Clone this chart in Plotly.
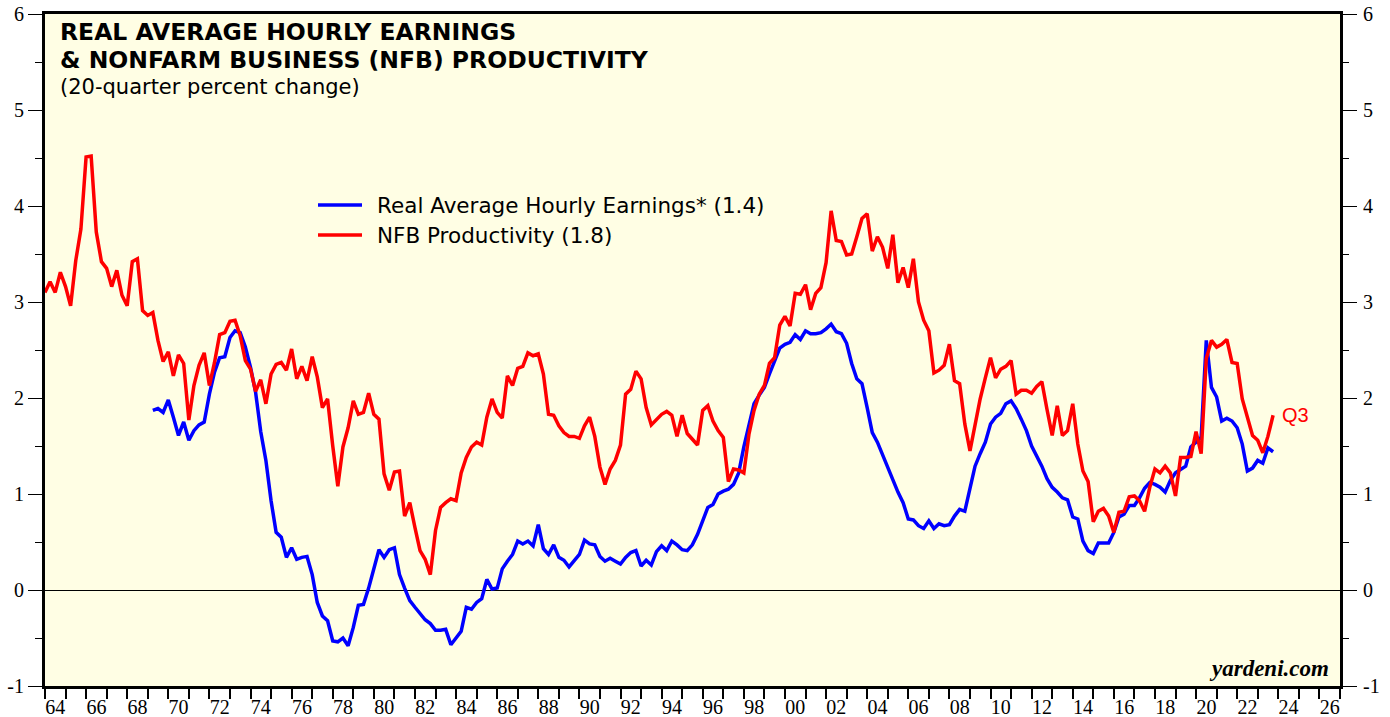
import pandas as pd
import plotly.graph_objects as go

# ---------------- data (20-quarter percent change, quarterly) ----------------
PROD_START = "1963Q4"
EARN_START = "1969Q1"

productivity = [
    3.10, 3.21, 3.10, 3.31, 3.16, 2.96, 3.43, 3.76, 4.51, 4.52,
    3.73, 3.42, 3.35, 3.16, 3.33, 3.07, 2.96, 3.42, 3.45, 2.91,
    2.86, 2.89, 2.60, 2.38, 2.48, 2.23, 2.45, 2.36, 1.77, 2.13,
    2.34, 2.47, 2.13, 2.37, 2.66, 2.68, 2.80, 2.81, 2.65, 2.39,
    2.30, 2.07, 2.19,
    1.94, 2.25, 2.35, 2.37, 2.29, 2.51, 2.20, 2.33, 2.18, 2.43,
    2.22, 1.90, 1.99, 1.50, 1.08, 1.49, 1.69, 1.97, 1.83, 1.85,
    2.05, 1.83, 1.78, 1.21, 1.04, 1.23, 1.24, 0.77, 0.91, 0.65,
    0.41, 0.32, 0.16, 0.62, 0.86, 0.91, 0.95, 0.93, 1.22, 1.38,
    1.49, 1.54,
    1.51, 1.80, 1.99, 1.85, 1.79, 2.23, 2.13, 2.31, 2.33, 2.47,
    2.44, 2.46, 2.25, 1.83, 1.82, 1.71, 1.64, 1.60, 1.60, 1.58,
    1.71, 1.80, 1.60, 1.28, 1.10, 1.26, 1.35, 1.51, 2.04, 2.09,
    2.28, 2.20, 1.90, 1.72, 1.77, 1.83, 1.86, 1.82, 1.60, 1.82,
    1.63, 1.57,
    1.51, 1.87, 1.92, 1.76, 1.66, 1.59, 1.13, 1.26, 1.25, 1.22,
    1.62, 1.87, 2.04, 2.13, 2.36, 2.42, 2.76, 2.85, 2.75, 3.09,
    3.08, 3.18, 2.92, 3.09, 3.15, 3.41, 3.95, 3.64, 3.63, 3.49,
    3.50, 3.68, 3.87, 3.92, 3.53, 3.68, 3.57, 3.35, 3.70, 3.20,
    3.36, 3.15,
    3.45, 3.00, 2.81, 2.70, 2.26, 2.29, 2.34, 2.56, 2.18, 2.15,
    1.73, 1.45, 1.73, 1.99, 2.21, 2.42, 2.21, 2.30, 2.33, 2.39,
    2.04, 2.08, 2.08, 2.05, 2.12, 2.17, 1.88, 1.61, 1.92, 1.61,
    1.66, 1.94, 1.52, 1.24, 1.13, 0.71, 0.82, 0.85, 0.77, 0.60,
    0.81, 0.82,
    0.97, 0.98, 0.93, 0.82, 1.07, 1.26, 1.22, 1.29, 1.22, 0.98,
    1.38, 1.38, 1.39, 1.65, 1.42, 2.41, 2.60, 2.53, 2.56, 2.61,
    2.37, 2.36, 1.99, 1.80, 1.61, 1.56, 1.43, 1.60, 1.82,
]

earnings = [
    1.87, 1.89, 1.85, 1.98, 1.80, 1.61, 1.75, 1.56, 1.66, 1.72,
    1.75, 2.04, 2.27, 2.42, 2.43, 2.63, 2.70, 2.68, 2.53, 2.32,
    2.06, 1.65,
    1.35, 0.93, 0.60, 0.55, 0.34, 0.44, 0.32, 0.34, 0.35, 0.16,
    -0.13, -0.27, -0.32, -0.53, -0.54, -0.50, -0.58, -0.39, -0.16, -0.15,
    0.02, 0.22, 0.42, 0.34, 0.42, 0.44, 0.16, 0.02, -0.11, -0.18,
    -0.24, -0.31, -0.35, -0.42, -0.42, -0.41, -0.57, -0.50, -0.43, -0.18,
    -0.20, -0.13,
    -0.09, 0.11, 0.01, 0.02, 0.22, 0.30, 0.37, 0.51, 0.48, 0.51,
    0.46, 0.68, 0.43, 0.37, 0.47, 0.34, 0.31, 0.24, 0.30, 0.37,
    0.52, 0.48, 0.47, 0.35, 0.30, 0.33, 0.30, 0.27, 0.34, 0.39,
    0.41, 0.25, 0.31, 0.26, 0.40, 0.46, 0.41, 0.51, 0.47, 0.42,
    0.41, 0.47,
    0.58, 0.73, 0.86, 0.89, 1.00, 1.03, 1.05, 1.10, 1.22, 1.49,
    1.73, 1.94, 2.03, 2.11, 2.25, 2.38, 2.52, 2.56, 2.58, 2.66,
    2.61, 2.70, 2.67, 2.67, 2.68, 2.72, 2.77, 2.69, 2.67, 2.57,
    2.36, 2.20, 2.15, 1.90, 1.64, 1.54, 1.41, 1.27, 1.14, 1.02,
    0.91, 0.74,
    0.73, 0.67, 0.64, 0.72, 0.64, 0.69, 0.67, 0.68, 0.77, 0.84,
    0.82, 1.07, 1.29, 1.42, 1.54, 1.73, 1.80, 1.84, 1.94, 1.97,
    1.89, 1.78, 1.66, 1.50, 1.40, 1.29, 1.16, 1.07, 1.02, 0.96,
    0.94, 0.76, 0.74, 0.51, 0.41, 0.38, 0.49, 0.49, 0.49, 0.60,
    0.76, 0.79,
    0.88, 0.88, 0.96, 1.06, 1.12, 1.10, 1.07, 1.02, 1.14, 1.22,
    1.26, 1.29, 1.49, 1.54, 1.59, 2.60, 2.11, 2.01, 1.76, 1.79,
    1.76, 1.69, 1.52, 1.24, 1.27, 1.35, 1.32, 1.48, 1.44,
]

EARN_NAME = "Real Average Hourly Earnings* (1.4)"
PROD_NAME = "NFB Productivity (1.8)"
TITLE_LINES = ["REAL AVERAGE HOURLY EARNINGS",
               "&amp; NONFARM BUSINESS (NFB) PRODUCTIVITY"]
SUBTITLE = "(20-quarter percent change)"
LAST_LABEL = "Q3"
SOURCE = "yardeni.com"

X_FIRST_YEAR = 1964
X_LAST_YEAR = 2027
LABEL_YEARS = list(range(1964, 2027, 2))
Y_TICKS = [-1, 0, 1, 2, 3, 4, 5, 6]
Y_TICK_TEXT = [str(v) for v in Y_TICKS]


def quarter_dates(start, n):
    p = pd.period_range(start, periods=n, freq="Q")
    return [d.strftime("%Y-%m-%d") for d in p.end_time.normalize()]


prod_x = quarter_dates(PROD_START, len(productivity))
earn_x = quarter_dates(EARN_START, len(earnings))

BLUE = "#0000FF"
RED = "#FF0000"
BG = "#FFFEE4"
SERIF = "Liberation Serif"
SANS = "DejaVu Sans"

# plot area (page pixels): x 45..1340, y 14..686 (page body margin removed below)
PX0, PX1, PY0, PY1 = 45, 1340, 14, 686


def px(x):
    return (x - PX0) / (PX1 - PX0)


def py(y):
    return (PY1 - y) / (PY1 - PY0)


fig = go.Figure()
fig.add_trace(go.Scatter(x=earn_x, y=earnings, mode="lines", name=EARN_NAME,
                         showlegend=False,
                         line=dict(color=BLUE, width=3.5)))
fig.add_trace(go.Scatter(x=prod_x, y=productivity, mode="lines", name=PROD_NAME,
                         showlegend=False,
                         line=dict(color=RED, width=3.5)))

xrange = [f"{X_FIRST_YEAR}-01-01", f"{X_LAST_YEAR}-01-01"]
W, H = 1390, 717

yaxis_common = dict(range=[-1, 6], showgrid=False, automargin=False,
                    ticklabeloverflow="allow",
                    tickmode="array", tickvals=Y_TICKS, ticktext=Y_TICK_TEXT,
                    tickwidth=1, tickcolor="black",
                    tickfont=dict(family=SERIF, size=20, color="black"))

fig.update_layout(
    width=W, height=H,
    margin=dict(l=PX0, r=W - PX1, t=PY0, b=H - PY1, autoexpand=False),
    paper_bgcolor="white",
    plot_bgcolor=BG,
    showlegend=False,
    xaxis=dict(type="date", range=xrange, showgrid=False, zeroline=False,
               automargin=False,
               showline=True, linecolor="black", linewidth=3, mirror=True,
               ticks="outside", tick0=f"{X_FIRST_YEAR}-01-01", dtick="M12",
               ticklen=10, tickwidth=2, tickcolor="black",
               showticklabels=False),
    xaxis2=dict(type="date", range=xrange, overlaying="x", side="bottom",
                automargin=False, ticklabeloverflow="allow",
                showgrid=False, zeroline=False, showline=False,
                tickmode="array",
                tickvals=[f"{y}-07-02" for y in LABEL_YEARS],
                ticktext=[f"{y % 100:02d}" for y in LABEL_YEARS],
                ticks="outside", ticklen=3, tickcolor="rgba(0,0,0,0)",
                tickfont=dict(family=SERIF, size=20, color="black")),
    yaxis=dict(**yaxis_common,
               zeroline=True, zerolinecolor="black", zerolinewidth=1,
               showline=True, linecolor="black", linewidth=3, mirror=True,
               ticks="outside", ticklen=14,
               minor=dict(dtick=0.5, ticks="outside", ticklen=7,
                          tickwidth=1, tickcolor="black")),
    yaxis2=dict(**yaxis_common, overlaying="y", side="right",
                zeroline=False, showline=False,
                ticks="outside", ticklen=16, ticklabelstandoff=2,
                minor=dict(dtick=0.5, ticks="outside", ticklen=8,
                           tickwidth=1, tickcolor="black")),
)

# helper so the overlay axes are drawn
fig.add_trace(go.Scatter(x=[xrange[0]], y=[None], xaxis="x2", yaxis="y2",
                         showlegend=False, hoverinfo="skip"))

# key (legend): sample line + label for each series
for name, color, ky in [(EARN_NAME, BLUE, 205), (PROD_NAME, RED, 235)]:
    fig.add_shape(type="line", xref="paper", yref="paper",
                  x0=px(318), x1=px(362), y0=py(ky), y1=py(ky),
                  line=dict(color=color, width=3.5))
    fig.add_annotation(xref="paper", yref="paper", x=px(375), y=py(ky),
                       xanchor="left", yanchor="middle", align="left",
                       text=name, showarrow=False,
                       font=dict(family=SANS, size=21.5, color="black"))

for i, line in enumerate(TITLE_LINES):
    fig.add_annotation(xref="paper", yref="paper", x=px(58),
                       y=py(32 + 28 * i),
                       xanchor="left", yanchor="middle", align="left",
                       text=f"<b>{line}</b>", showarrow=False,
                       font=dict(family=SANS, size=23.5, color="black"))
fig.add_annotation(xref="paper", yref="paper", x=px(58), y=py(87),
                   xanchor="left", yanchor="middle", align="left",
                   text=SUBTITLE, showarrow=False,
                   font=dict(family=SANS, size=21, color="black"))
fig.add_annotation(xref="paper", yref="paper", x=px(1331), y=py(668),
                   xanchor="right", yanchor="middle",
                   text=f"<b><i>{SOURCE}</i></b>", showarrow=False,
                   font=dict(family=SERIF, size=23, color="black"))
fig.add_annotation(x=prod_x[-1], y=productivity[-1], xref="x", yref="y",
                   xanchor="left", yanchor="middle", xshift=7,
                   text=LAST_LABEL, showarrow=False,
                   font=dict(family="Liberation Sans", size=20, color=RED))

fig.write_html("out.html",
               config={"displayModeBar": False},
               post_script="document.body.style.margin='0px';"
                           "document.body.style.overflow='hidden';")
